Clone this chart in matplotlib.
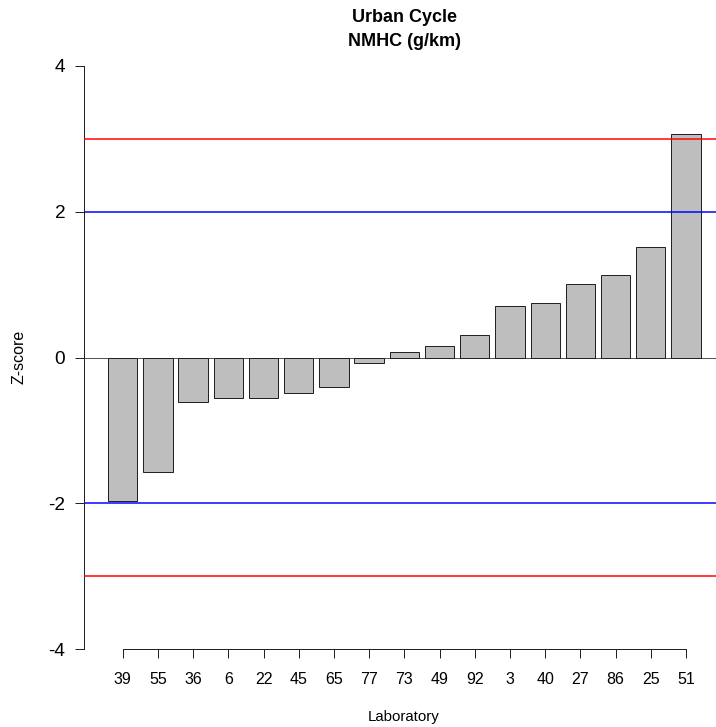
import matplotlib
matplotlib.use("Agg")
import matplotlib.pyplot as plt
import numpy as np

labs = ["39", "55", "36", "6", "22", "45", "65", "77", "73", "49", "92",
        "3", "40", "27", "86", "25", "51"]
zscores = [-1.97, -1.57, -0.615, -0.555, -0.555, -0.49, -0.41, -0.07, 0.075,
           0.16, 0.31, 0.71, 0.75, 1.01, 1.13, 1.51, 3.07]
yticks = [-4, -2, 0, 2, 4]
warn_lines = [2, -2]
action_lines = [3, -3]

plt.rcParams['font.family'] = ['Liberation Sans', 'DejaVu Sans']

W, H = 716, 727
fig = plt.figure(figsize=(W / 72, H / 72), dpi=72)
left, right, top, bottom = 84.3, 724.4, 66, 649
ax = fig.add_axes([left / W, 1 - bottom / H, (right - left) / W, (bottom - top) / H])

n = len(zscores)
pos = 0.7 + 1.2 * np.arange(n)
ax.set_xlim(-0.608, 21.208)
ax.set_ylim(-4, 4)

ax.axhline(0, color='#555555', lw=1, zorder=1)
ax.bar(pos, zscores, width=1.0, color='#BEBEBE', edgecolor='#222222', linewidth=1, zorder=2)
for v in action_lines:
    ax.axhline(v, color='#FF0000', lw=1.5, zorder=3)
for v in warn_lines:
    ax.axhline(v, color='#0000FF', lw=1.5, zorder=3)

for s in ['top', 'right']:
    ax.spines[s].set_visible(False)
ax.spines['left'].set_bounds(-4, 4)
ax.spines['bottom'].set_bounds(pos[0], pos[-1])
for s in ['left', 'bottom']:
    ax.spines[s].set_linewidth(1)
    ax.spines[s].set_color('#222222')

ax.set_yticks(yticks)
ax.set_yticklabels([str(t) for t in yticks], fontsize=19)
ax.tick_params(axis='y', length=9, width=1, pad=10, colors='#222222', labelcolor='black')
ax.set_xticks(pos)
ax.set_xticklabels(labs, fontsize=16)
ax.tick_params(axis='x', length=9, width=1, pad=14, colors='#222222', labelcolor='black')

fig.text(19 / W, 1 - 357 / H, "Z-score", rotation=90, ha='center', va='center', fontsize=16)
fig.text(404 / W, 1 - 717 / H, "Laboratory", ha='center', va='center', fontsize=15)
fig.text(404 / W, 1 - 18 / H, "Urban Cycle", ha='center', va='center', fontsize=18, fontweight='bold')
fig.text(404 / W, 1 - 42 / H, "NMHC (g/km)", ha='center', va='center', fontsize=18, fontweight='bold')

fig.savefig("out.png", dpi=72)
